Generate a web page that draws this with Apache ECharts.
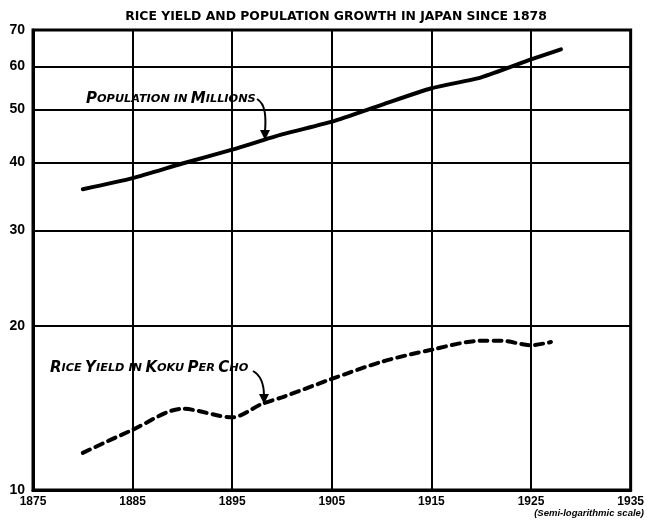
<!DOCTYPE html>
<html>
<head>
<meta charset="utf-8">
<title>Rice yield and population growth in Japan</title>
<script src="https://cdn.jsdelivr.net/npm/echarts@6/dist/echarts.min.js"></script>
<style>
  html, body { margin: 0; padding: 0; background: #fff; }
  #chart { width: 647px; height: 525px; }
</style>
</head>
<body>
<div id="chart"></div>
<script>
// values
const popYears = [1880, 1885, 1890, 1895, 1900, 1905, 1910, 1915, 1920, 1925, 1928];
const population = [35.7, 37.4, 39.8, 42.2, 45.0, 47.5, 51.0, 54.7, 57.3, 61.8, 64.5];

const riceYears = [1880, 1885, 1890, 1895, 1898, 1900, 1905, 1910, 1915, 1920, 1922, 1925, 1927];
const riceYield = [11.7, 12.9, 14.1, 13.6, 14.4, 14.8, 16.0, 17.2, 18.1, 18.8, 18.8, 18.45, 18.7];

const xTicks = [1875, 1885, 1895, 1905, 1915, 1925, 1935];
const yTicks = [10, 20, 30, 40, 50, 60, 70];

const FONT = '"Liberation Sans", "DejaVu Sans", sans-serif';
const WIDE = '"DejaVu Sans", "Liberation Sans", sans-serif';

const chart = echarts.init(document.getElementById('chart'));

function pairs(xs, ys) {
  return xs.map((x, i) => [x, ys[i]]);
}

// small caps look: big first letters, small rest
const capsRich = {
  b: { fontFamily: WIDE, fontSize: 15, fontWeight: 'bold', fontStyle: 'italic', fill: '#000' },
  s: { fontFamily: WIDE, fontSize: 11.3, fontWeight: 'bold', fontStyle: 'italic', fill: '#000' }
};

const option = {
  backgroundColor: '#fff',
  animation: false,
  title: {
    text: 'RICE YIELD AND POPULATION GROWTH IN JAPAN SINCE 1878',
    left: 331,
    textAlign: 'center',
    top: 6,
    textStyle: { fontFamily: WIDE, fontSize: 12.4, fontWeight: 'bold', color: '#000' }
  },
  grid: {
    left: 33,
    right: 15,
    top: 30,
    bottom: 35,
    show: true,
    borderColor: '#000',
    borderWidth: 3
  },
  xAxis: {
    type: 'value',
    min: 1875,
    max: 1935,
    axisLine: { show: true, lineStyle: { color: '#000', width: 3 } },
    axisTick: { show: false, customValues: xTicks },
    axisLabel: {
      customValues: xTicks,
      formatter: v => String(v),
      color: '#000',
      fontFamily: FONT,
      fontWeight: 'bold',
      fontSize: 12,
      margin: 6
    },
    splitLine: { show: true, lineStyle: { color: '#000', width: 2 } }
  },
  yAxis: {
    type: 'log',
    logBase: 10,
    min: 10,
    max: 70,
    axisLine: { show: true, lineStyle: { color: '#000', width: 3 } },
    axisTick: { show: false, customValues: yTicks },
    axisLabel: {
      customValues: yTicks,
      color: '#000',
      fontFamily: FONT,
      fontWeight: 'bold',
      fontSize: 14,
      margin: 8
    },
    splitLine: { show: true, lineStyle: { color: '#000', width: 2 } }
  },
  series: [
    {
      name: 'Population in Millions',
      type: 'line',
      data: pairs(popYears, population),
      smooth: 0.2,
      symbol: 'none',
      lineStyle: { color: '#000', width: 4, cap: 'round' }
    },
    {
      name: 'Rice Yield in Koku per Cho',
      type: 'line',
      data: pairs(riceYears, riceYield),
      smooth: 0.3,
      symbol: 'none',
      lineStyle: { color: '#000', width: 4, type: [8, 6], cap: 'round' }
    }
  ],
  graphic: [
    {
      type: 'text', left: 86, top: 92,
      style: { text: '{b|P}{s|OPULATION IN} {b|M}{s|ILLIONS}', rich: capsRich }
    },
    {
      type: 'bezierCurve',
      shape: { x1: 257, y1: 99, cpx1: 266, cpy1: 104, cpx2: 266, cpy2: 118, x2: 265, y2: 132 },
      style: { stroke: '#000', lineWidth: 2, fill: null }
    },
    {
      type: 'polygon',
      shape: { points: [[260, 130], [270, 130], [265, 140]] },
      style: { fill: '#000' }
    },
    {
      type: 'text', left: 50, top: 361,
      style: { text: '{b|R}{s|ICE} {b|Y}{s|IELD IN} {b|K}{s|OKU} {b|P}{s|ER} {b|C}{s|HO}', rich: capsRich }
    },
    {
      type: 'bezierCurve',
      shape: { x1: 253, y1: 371, cpx1: 262, cpy1: 376, cpx2: 264, cpy2: 385, x2: 264, y2: 396 },
      style: { stroke: '#000', lineWidth: 2, fill: null }
    },
    {
      type: 'polygon',
      shape: { points: [[259, 394], [269, 394], [264, 404]] },
      style: { fill: '#000' }
    },
    {
      type: 'text', right: 3, top: 508,
      style: {
        text: '(Semi-logarithmic scale)',
        fontFamily: FONT, fontSize: 9.5, fontWeight: 'bold', fontStyle: 'italic', fill: '#000'
      }
    }
  ]
};

chart.setOption(option);
</script>
</body>
</html>
